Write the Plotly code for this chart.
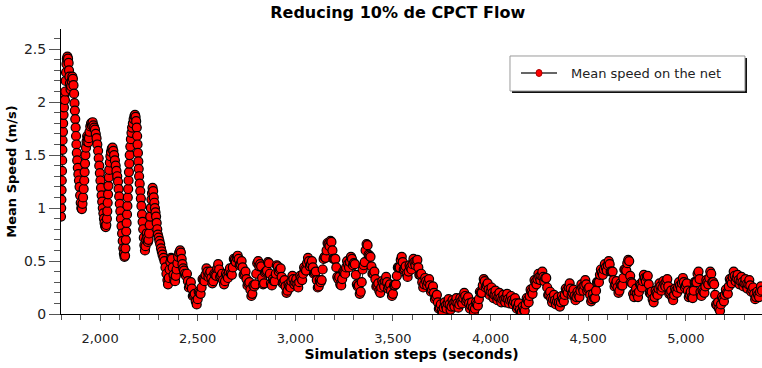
import plotly.graph_objects as go

# Start of the run (irregular sampling where the speed changes fast): time (s), mean speed (m/s)
early_steps = [
    1800, 1801, 1802, 1803, 1804, 1805, 1806, 1807, 1808, 1810,
    1811, 1813, 1815, 1816, 1818, 1820, 1822, 1824, 1826, 1828,
    1830, 1833, 1836, 1839, 1841, 1843, 1846, 1849, 1852, 1855,
    1858, 1861, 1864, 1867, 1869, 1871, 1873, 1875, 1877, 1879,
    1881, 1883, 1886, 1889, 1892, 1895, 1898, 1901, 1904, 1907,
    1910, 1913, 1916, 1919, 1921, 1923, 1925, 1928, 1931, 1934,
    1937, 1940, 1943, 1946, 1950, 1954, 1958, 1962, 1966, 1970,
    1974, 1978, 1982, 1986, 1990, 1993, 1996, 1999, 2002, 2005,
    2008, 2011, 2014, 2017, 2020, 2023, 2026, 2029, 2032, 2035,
    2037, 2039, 2041, 2043, 2045, 2047, 2050, 2053, 2056, 2060,
    2064, 2068, 2072, 2076, 2080, 2084, 2088, 2092, 2095, 2098,
    2101, 2104, 2107, 2110, 2113, 2116, 2119, 2122, 2125, 2128,
    2130, 2132, 2134, 2136, 2138, 2140, 2142, 2144, 2146, 2148,
    2150, 2152, 2155, 2158, 2161, 2164, 2168, 2172, 2176, 2179,
    2182, 2185, 2188, 2190, 2192, 2194, 2196, 2198, 2200, 2203,
    2206, 2209, 2212, 2215, 2218, 2221, 2224, 2227, 2230, 2233,
    2236, 2239, 2242, 2245, 2248, 2251, 2254, 2257, 2260, 2263,
    2266, 2269, 2272, 2275, 2278, 2281, 2284, 2287, 2290, 2293,
    2296, 2300, 2304, 2308, 2312, 2316, 2320, 2325, 2330, 2335,
    2340, 2345, 2348, 2352, 2356, 2360, 2364, 2368, 2372, 2376,
    2380, 2384, 2388, 2392, 2396, 2400, 2405, 2410, 2414, 2418,
    2422, 2426, 2430, 2435,
]
early_speed = [
    0.92, 1.00, 1.08, 1.17, 1.26, 1.35, 1.45, 1.55, 1.64, 1.72,
    1.80, 1.88, 1.95, 2.05, 2.08, 2.02, 2.10, 2.20, 2.28, 2.36,
    2.41, 2.43, 2.41, 2.37, 2.30, 2.24, 2.18, 2.12, 2.15, 2.20,
    2.24, 2.22, 2.16, 2.08, 1.99, 1.92, 1.84, 1.76, 1.68, 1.60,
    1.52, 1.45, 1.38, 1.32, 1.26, 1.20, 1.12, 1.05, 1.00, 0.99,
    1.04, 1.10, 1.18, 1.26, 1.34, 1.42, 1.50, 1.57, 1.63, 1.68,
    1.66, 1.62, 1.66, 1.72, 1.77, 1.80, 1.78, 1.81, 1.78, 1.76,
    1.74, 1.70, 1.66, 1.60, 1.54, 1.47, 1.40, 1.33, 1.26, 1.19,
    1.12, 1.06, 1.00, 0.95, 0.90, 0.86, 0.83, 0.82, 0.84, 0.90,
    0.97, 1.05, 1.13, 1.21, 1.29, 1.36, 1.43, 1.49, 1.53, 1.56,
    1.57, 1.54, 1.50, 1.45, 1.40, 1.35, 1.30, 1.25, 1.18, 1.11,
    1.04, 0.97, 0.90, 0.83, 0.76, 0.69, 0.62, 0.57, 0.54, 0.55,
    0.62, 0.70, 0.78, 0.86, 0.94, 1.02, 1.10, 1.18, 1.26, 1.34,
    1.42, 1.50, 1.58, 1.65, 1.71, 1.76, 1.80, 1.84, 1.87, 1.88,
    1.86, 1.82, 1.76, 1.68, 1.60, 1.52, 1.44, 1.37, 1.30, 1.23,
    1.16, 1.09, 1.02, 0.94, 0.87, 0.80, 0.72, 0.65, 0.60, 0.64,
    0.70, 0.76, 0.72, 0.68, 0.70, 0.76, 0.84, 0.92, 1.00, 1.08,
    1.14, 1.19, 1.16, 1.10, 1.05, 1.00, 0.96, 0.92, 0.86, 0.80,
    0.75, 0.72, 0.69, 0.66, 0.62, 0.59, 0.56, 0.53, 0.50, 0.44,
    0.38, 0.32, 0.28, 0.34, 0.42, 0.49, 0.53, 0.52, 0.44, 0.37,
    0.32, 0.31, 0.36, 0.42, 0.48, 0.54, 0.58, 0.60, 0.58, 0.52,
    0.47, 0.43, 0.41, 0.38,
]

# Rest of the run, one sample every 5 s from 2440 s (one row = 100 s)
late_start, late_step = 2440, 5
late_speed = [
    0.36, 0.38, 0.31, 0.25, 0.27, 0.30, 0.24, 0.17, 0.18, 0.19, 0.12, 0.09, 0.14, 0.21, 0.20, 0.19, 0.25, 0.33, 0.32, 0.31,  # 2440
    0.37, 0.43, 0.40, 0.35, 0.38, 0.40, 0.34, 0.29, 0.31, 0.38, 0.37, 0.36, 0.43, 0.47, 0.42, 0.35, 0.36, 0.38, 0.32, 0.28,  # 2540
    0.31, 0.38, 0.36, 0.34, 0.40, 0.43, 0.38, 0.37, 0.44, 0.52, 0.51, 0.49, 0.53, 0.55, 0.52, 0.46, 0.47, 0.50, 0.44, 0.37,  # 2640
    0.38, 0.40, 0.33, 0.27, 0.29, 0.30, 0.23, 0.17, 0.19, 0.27, 0.26, 0.28, 0.38, 0.48, 0.50, 0.45, 0.47, 0.45, 0.34, 0.28,  # 2740
    0.29, 0.39, 0.40, 0.41, 0.49, 0.48, 0.38, 0.29, 0.27, 0.33, 0.31, 0.31, 0.38, 0.46, 0.45, 0.40, 0.42, 0.43, 0.35, 0.29,  # 2840
    0.30, 0.32, 0.26, 0.20, 0.22, 0.28, 0.26, 0.25, 0.31, 0.36, 0.33, 0.28, 0.30, 0.33, 0.28, 0.25, 0.30, 0.36, 0.34, 0.32,  # 2940
    0.38, 0.44, 0.42, 0.41, 0.48, 0.53, 0.50, 0.45, 0.47, 0.50, 0.44, 0.38, 0.39, 0.40, 0.32, 0.25, 0.26, 0.32, 0.30, 0.32,  # 3040
    0.42, 0.52, 0.54, 0.53, 0.60, 0.67, 0.66, 0.64, 0.69, 0.68, 0.60, 0.52, 0.52, 0.52, 0.44, 0.35, 0.33, 0.35, 0.28, 0.27,  # 3140
    0.33, 0.40, 0.39, 0.38, 0.44, 0.50, 0.47, 0.44, 0.49, 0.54, 0.52, 0.46, 0.48, 0.47, 0.37, 0.28, 0.26, 0.27, 0.19, 0.21,  # 3240
    0.30, 0.42, 0.46, 0.49, 0.60, 0.66, 0.65, 0.56, 0.55, 0.54, 0.45, 0.38, 0.38, 0.40, 0.33, 0.26, 0.27, 0.29, 0.22, 0.20,  # 3340
    0.25, 0.31, 0.29, 0.26, 0.31, 0.35, 0.30, 0.24, 0.26, 0.28, 0.22, 0.17, 0.19, 0.27, 0.27, 0.28, 0.36, 0.44, 0.44, 0.44,  # 3440
    0.51, 0.54, 0.49, 0.42, 0.43, 0.45, 0.38, 0.35, 0.40, 0.46, 0.44, 0.42, 0.47, 0.52, 0.49, 0.46, 0.50, 0.51, 0.44, 0.37,  # 3540
    0.37, 0.38, 0.30, 0.25, 0.28, 0.34, 0.31, 0.27, 0.30, 0.33, 0.27, 0.21, 0.23, 0.26, 0.20, 0.14, 0.16, 0.18, 0.11, 0.05,  # 3640
    0.06, 0.09, 0.03, 0.01, 0.06, 0.11, 0.08, 0.05, 0.10, 0.14, 0.09, 0.04, 0.07, 0.13, 0.10, 0.07, 0.12, 0.15, 0.10, 0.06,  # 3740
    0.09, 0.15, 0.12, 0.10, 0.15, 0.20, 0.17, 0.12, 0.14, 0.16, 0.10, 0.05, 0.08, 0.11, 0.06, 0.02, 0.05, 0.11, 0.09, 0.08,  # 3840
    0.14, 0.21, 0.20, 0.20, 0.27, 0.33, 0.31, 0.25, 0.27, 0.29, 0.23, 0.18, 0.21, 0.25, 0.20, 0.15, 0.18, 0.22, 0.17, 0.13,  # 3940
    0.16, 0.20, 0.15, 0.11, 0.14, 0.18, 0.14, 0.11, 0.15, 0.19, 0.14, 0.10, 0.13, 0.17, 0.13, 0.09, 0.12, 0.15, 0.10, 0.05,  # 4040
    0.07, 0.10, 0.04, 0.01, 0.02, 0.07, 0.04, 0.03, 0.09, 0.15, 0.13, 0.11, 0.17, 0.23, 0.21, 0.19, 0.25, 0.32, 0.30, 0.28,  # 4140
    0.33, 0.38, 0.35, 0.32, 0.36, 0.40, 0.35, 0.31, 0.34, 0.34, 0.25, 0.18, 0.18, 0.21, 0.15, 0.11, 0.14, 0.18, 0.13, 0.09,  # 4240
    0.12, 0.16, 0.11, 0.07, 0.11, 0.17, 0.14, 0.12, 0.18, 0.24, 0.22, 0.20, 0.25, 0.29, 0.24, 0.18, 0.20, 0.23, 0.17, 0.13,  # 4340
    0.16, 0.21, 0.18, 0.16, 0.22, 0.28, 0.25, 0.22, 0.27, 0.32, 0.28, 0.22, 0.24, 0.25, 0.18, 0.12, 0.14, 0.19, 0.15, 0.15,  # 4440
    0.22, 0.30, 0.30, 0.30, 0.37, 0.42, 0.39, 0.37, 0.42, 0.47, 0.44, 0.41, 0.46, 0.50, 0.47, 0.40, 0.40, 0.40, 0.32, 0.26,  # 4540
    0.28, 0.31, 0.25, 0.20, 0.22, 0.29, 0.27, 0.27, 0.34, 0.42, 0.42, 0.41, 0.48, 0.51, 0.50, 0.36, 0.30, 0.29, 0.19, 0.16,  # 4640
    0.21, 0.24, 0.19, 0.16, 0.21, 0.28, 0.27, 0.25, 0.31, 0.37, 0.34, 0.31, 0.35, 0.36, 0.28, 0.20, 0.19, 0.21, 0.14, 0.11,  # 4740
    0.16, 0.22, 0.20, 0.18, 0.24, 0.29, 0.26, 0.22, 0.25, 0.31, 0.28, 0.26, 0.31, 0.33, 0.26, 0.19, 0.20, 0.22, 0.16, 0.13,  # 4840
    0.18, 0.24, 0.22, 0.20, 0.25, 0.30, 0.27, 0.24, 0.29, 0.34, 0.30, 0.25, 0.27, 0.29, 0.22, 0.16, 0.18, 0.21, 0.16, 0.15,  # 4940
    0.22, 0.30, 0.30, 0.30, 0.38, 0.40, 0.33, 0.21, 0.17, 0.23, 0.21, 0.20, 0.26, 0.32, 0.30, 0.28, 0.34, 0.40, 0.38, 0.30,  # 5040
    0.30, 0.28, 0.18, 0.09, 0.08, 0.11, 0.05, 0.03, 0.09, 0.16, 0.14, 0.12, 0.18, 0.23, 0.20, 0.19, 0.26, 0.33, 0.31, 0.29,  # 5140
    0.35, 0.40, 0.36, 0.31, 0.34, 0.37, 0.32, 0.28, 0.31, 0.35, 0.30, 0.26, 0.29, 0.33, 0.28, 0.24, 0.28, 0.32, 0.27, 0.21,  # 5240
    0.23, 0.25, 0.19, 0.14, 0.16, 0.21, 0.18, 0.16, 0.21, 0.26, 0.22,                                                          # 5340
]
late_steps = [late_start + late_step * i for i in range(len(late_speed))]

steps = early_steps + late_steps
mean_speed = early_speed + late_speed

x_ticks = [2000, 2500, 3000, 3500, 4000, 4500, 5000]
x_tick_text = ["2,000", "2,500", "3,000", "3,500", "4,000", "4,500", "5,000"]
y_ticks = [0, 0.5, 1, 1.5, 2, 2.5]
y_tick_text = ["0", "0.5", "1", "1.5", "2", "2.5"]
series_name = "Mean speed on the net"

FONT = "Verdana, DejaVu Sans, sans-serif"
RED = "#ff0000"
DARK = "#000000"

fig = go.Figure()
fig.add_trace(go.Scatter(
    x=steps, y=mean_speed,
    mode="lines+markers",
    name=series_name,
    showlegend=False,
    line=dict(color="#333333", width=1),
    marker=dict(color=RED, size=9, line=dict(color=DARK, width=1.2)),
))

# Legend box drawn in paper coordinates: shadow, frame, sample line + dot, label
P = dict(xref="paper", yref="paper", layer="above")
fig.add_shape(type="rect", x0=0.6434, x1=0.9786, y0=0.7754, y1=0.8982,
              fillcolor="#111111", line=dict(width=0), **P)
fig.add_shape(type="rect", x0=0.6405, x1=0.9757, y0=0.7825, y1=0.9053,
              fillcolor="white", line=dict(color="#9a9a9a", width=1), **P)
fig.add_shape(type="line", x0=0.6562, x1=0.7076, y0=0.8456, y1=0.8456,
              line=dict(color="#333333", width=1.5), **P)
fig.add_shape(type="circle", x0=0.6776, x1=0.6862, y0=0.8579, y1=0.8333,
              fillcolor=RED, line=dict(color="#aa0000", width=1), **P)
fig.add_annotation(text=series_name, xref="paper", yref="paper",
                   x=0.7240, y=0.8456, xanchor="left", yanchor="middle",
                   showarrow=False, font=dict(family=FONT, size=13, color="#222222"))

fig.update_layout(
    width=762, height=368,
    margin=dict(l=61, r=0, t=29, b=54),
    paper_bgcolor="white", plot_bgcolor="white",
    font=dict(family=FONT, size=13, color="#222222"),
    title=dict(text="<b>Reducing 10% de CPCT Flow</b>", x=0.522, xanchor="center",
               y=0.965, yanchor="middle", font=dict(family=FONT, size=16, color="#000000")),
    showlegend=False,
    xaxis=dict(
        range=[1800, 5390], showgrid=False, zeroline=False,
        showline=True, linecolor="#000000", linewidth=1,
        tickmode="array", tickvals=x_ticks, ticktext=x_tick_text,
        ticks="outside", ticklen=6, tickcolor="#555555",
        ticklabelstandoff=6,
        minor=dict(dtick=100, ticks="outside", ticklen=5, tickcolor="#555555"),
        title=dict(text="<b>Simulation steps (seconds)</b>", standoff=3,
                   font=dict(family=FONT, size=14, color="#000000")),
    ),
    yaxis=dict(
        range=[0, 2.69], showgrid=False, zeroline=False,
        showline=True, linecolor="#000000", linewidth=1,
        tickmode="array", tickvals=y_ticks, ticktext=y_tick_text,
        ticks="outside", ticklen=11, tickcolor="#555555",
        tickfont=dict(size=14),
        minor=dict(dtick=0.1, ticks="outside", ticklen=6, tickcolor="#555555"),
        title=dict(text="<b>Mean Speed (m/s)</b>", standoff=4,
                   font=dict(family=FONT, size=13, color="#000000")),
    ),
)

fig.write_html("out.html")
